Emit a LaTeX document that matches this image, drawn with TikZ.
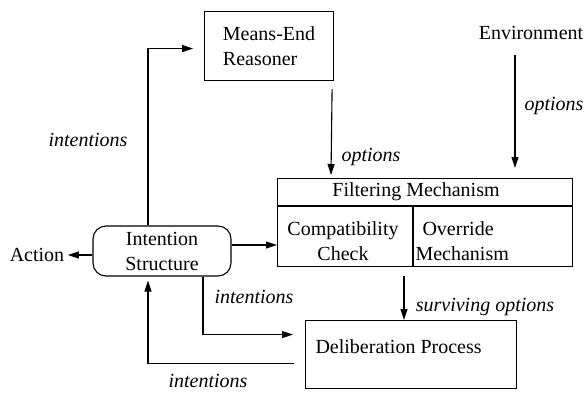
\documentclass[tikz,border=0pt]{standalone}
\usepackage{fontspec}
\setmainfont{Liberation Serif}
\usetikzlibrary{arrows.meta,calc}
\begin{document}
\begin{tikzpicture}[x=1pt,y=-1pt, line width=1.1pt,
  font=\fontsize{20}{25}\selectfont,
  box/.style={draw, rectangle, inner sep=0pt},
  arr/.style={-{Triangle[length=11pt,width=7pt]}},
  lbl/.style={font=\fontsize{20}{25}\selectfont\itshape, inner sep=0pt},
  txt/.style={inner sep=0pt}]
\useasboundingbox (0,0) rectangle (587,392);

% boxes
\node[box, minimum width=129pt, minimum height=69pt, anchor=north west, align=left] (me) at (204,11) {Means-End\\Reasoner};
\node[txt] (env) at (531,33) {Environment};
\node[box, minimum width=295pt, minimum height=88pt, anchor=north west] (filt) at (277,178) {};
\coordinate (hl) at ($(filt.north west)+(0,28)$);
\coordinate (hr) at ($(filt.north east)+(0,28)$);
\coordinate (vt) at ($(filt.north west)+(136,28)$);
\coordinate (vb) at ($(filt.south west)+(136,0)$);
\draw (hl) -- (hr);
\draw (vt) -- (vb);
\node[txt] (fm) at (416,192) {Filtering Mechanism};
\node[txt, align=center] (cc) at (343,241) {Compatibility\\Check};
\node[txt, anchor=west, align=left] (om) at (415,241) {\hspace*{7pt}Override\\Mechanism};

\node[box, draw, rounded corners=13pt, minimum width=138pt, minimum height=50pt, align=center] (is) at (162,251) {Intention\\Structure};
\node[txt, inner xsep=3pt] (act) at (37,255) {Action};

\node[box, minimum width=211pt, minimum height=68pt, anchor=north west] (del) at (305,320) {};
\node[txt, anchor=west] (dp) at (315,347) {Deliberation Process};

% labels
\node[lbl] (l1) at (88,140) {intentions};
\node[lbl] (l2) at (254,297) {intentions};
\node[lbl] (l3) at (208,381) {intentions};
\node[lbl] (l4) at (371,157) {options};
\node[lbl] (l5) at (554,106) {options};
\node[lbl] (l6) at (485,307) {surviving options};

% connectors
\draw[arr] ($(is.north)+(-14,0)$) |- ($(me.west)+(-11,2.5)$);
\draw[arr] ($(me.south east)+(-2,8)$) -- ($(filt.north west)+(54,-3)$);
\draw[arr] ($(env.south)+(-16,15)$) -- ($(filt.north west)+(238,-10)$);
\draw[arr] ($(is.west)+(0,4)$) -- (act.east);
\draw[arr] ($(is.east)+(0,-6)$) coordinate (t1) -- (t1 -| filt.west);
\draw[arr] ($(is.south)+(41,0)$) |- ($(del.west)+(-12,-20)$);
\draw[arr] ($(del.west)+(-11,9)$) -| ($(is.south)+(-14,4)$);
\draw[arr] ($(filt.south west)+(127,9)$) -- ($(del.north west)+(99,0)$);
\end{tikzpicture}
\end{document}
